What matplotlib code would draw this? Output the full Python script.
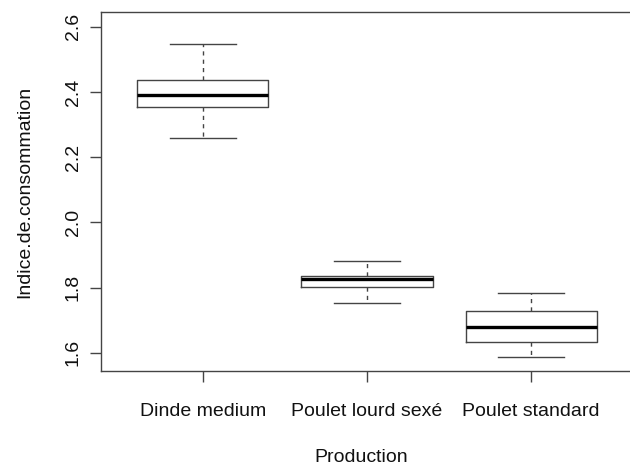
import matplotlib
matplotlib.use("Agg")
import matplotlib.pyplot as plt

categories = ["Dinde medium", "Poulet lourd sexé", "Poulet standard"]
whislo = [2.260, 1.752, 1.587]
q1 = [2.353, 1.801, 1.634]
med = [2.390, 1.825, 1.680]
q3 = [2.437, 1.836, 1.728]
whishi = [2.548, 1.881, 1.783]
yticks = [1.6, 1.8, 2.0, 2.2, 2.4, 2.6]
xlabel = "Production"
ylabel = "Indice.de.consommation"

plt.rcParams['font.family'] = ['Liberation Sans', 'DejaVu Sans']
W, H = 630, 467
fig = plt.figure(figsize=(W / 100, H / 100), dpi=100)
left, right, top, bottom = 101, 633, 12, 371
ax = fig.add_axes([left / W, 1 - bottom / H, (right - left) / W, (bottom - top) / H])

stats = []
for i, c in enumerate(categories):
    stats.append(dict(label=c, whislo=whislo[i], q1=q1[i], med=med[i], q3=q3[i],
                      whishi=whishi[i], fliers=[]))

lc = '#444444'
ax.bxp(stats, positions=[1, 2, 3], widths=0.8, showfliers=False, patch_artist=False,
       boxprops=dict(color=lc, linewidth=1.0),
       medianprops=dict(color='black', linewidth=2.4, solid_capstyle='butt'),
       whiskerprops=dict(color=lc, linewidth=1.0, linestyle=(0, (3, 3))),
       capprops=dict(color=lc, linewidth=1.0), capwidths=0.4)

ax.set_xlim(0.38, 3.62)
ax.set_ylim(1.544, 2.645)
ax.set_yticks(yticks)
ax.set_yticklabels([f"{v:.1f}" for v in yticks], rotation=90, va='center', fontsize=14)
ax.set_xticks([1, 2, 3])
ax.set_xticklabels(categories, fontsize=14)
for s in ax.spines.values():
    s.set_color(lc)
    s.set_linewidth(1.0)
ax.spines['right'].set_visible(False)
ax.tick_params(axis='both', length=8, width=1.0, color=lc, labelcolor='#111111')
ax.tick_params(axis='y', pad=6)
ax.tick_params(axis='x', pad=15)

ax.set_xlabel(xlabel, fontsize=14, color='#111111')
ax.set_ylabel(ylabel, fontsize=14, color='#111111')
ax.xaxis.set_label_coords((361.5 - left) / (right - left), 1 - (457.7 - top) / (bottom - top))
ax.xaxis.label.set_va('center')
ax.yaxis.set_label_coords((25 - left) / (right - left), 0.5)
ax.yaxis.label.set_va('center')

fig.savefig("out.png", dpi=100)
